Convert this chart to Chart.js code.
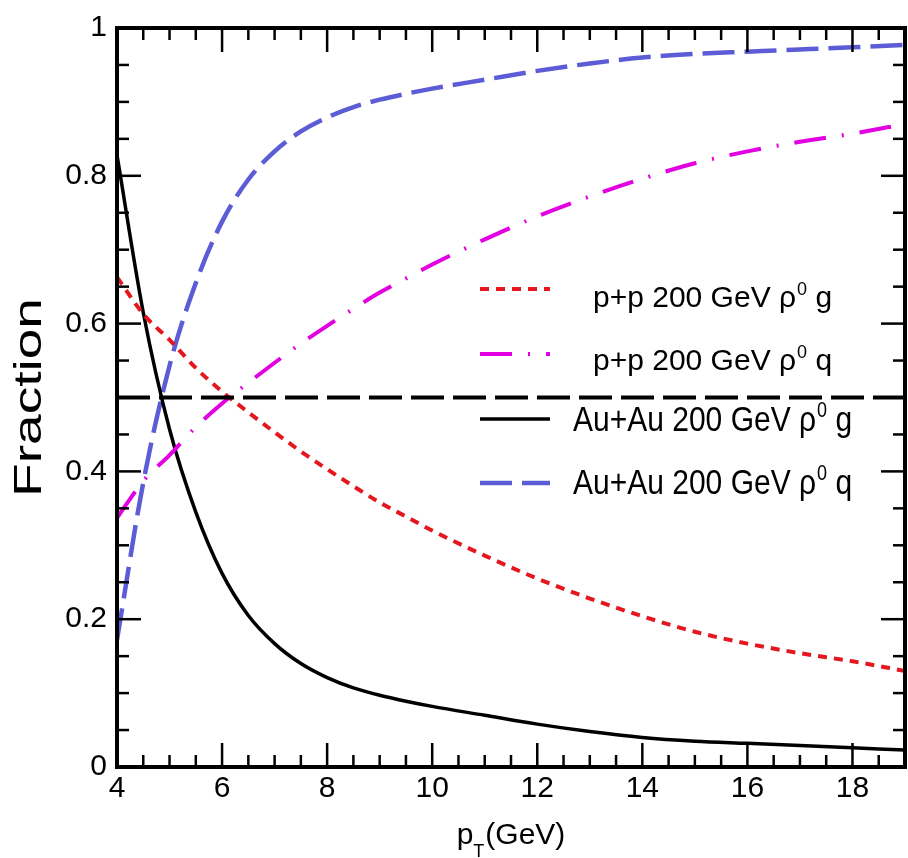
<!DOCTYPE html>
<html>
<head>
<meta charset="utf-8">
<title>Fraction vs pT</title>
<script src="https://cdn.jsdelivr.net/npm/chart.js@4.4.1/dist/chart.umd.min.js"></script>
<style>
  html, body { margin: 0; padding: 0; background: #fff; }
  canvas { display: block; }
</style>
</head>
<body>
<canvas id="chart" width="908" height="858"></canvas>
<script>
// pT grid (GeV)
const pT = [4, 4.5, 5, 5.5, 6, 6.5, 7, 7.5, 8, 8.5, 9, 9.5, 10, 11, 12, 13, 14, 15, 16, 17, 18, 19];

// fractions for each channel
const ppGluon = [0.663, 0.613, 0.578, 0.540, 0.508, 0.480, 0.453, 0.427, 0.403, 0.380, 0.358, 0.339, 0.320, 0.286, 0.255, 0.228, 0.204, 0.183, 0.167, 0.154, 0.143, 0.130];
const ppQuark = [0.337, 0.387, 0.422, 0.460, 0.492, 0.520, 0.547, 0.573, 0.597, 0.620, 0.642, 0.661, 0.680, 0.714, 0.745, 0.772, 0.796, 0.817, 0.833, 0.846, 0.857, 0.870];
const auGluon = [0.828, 0.615, 0.457, 0.345, 0.262, 0.205, 0.167, 0.140, 0.121, 0.107, 0.097, 0.089, 0.082, 0.070, 0.058, 0.048, 0.040, 0.035, 0.032, 0.029, 0.026, 0.023];
const auQuark = [0.172, 0.385, 0.543, 0.655, 0.738, 0.795, 0.833, 0.860, 0.879, 0.893, 0.903, 0.911, 0.918, 0.930, 0.942, 0.952, 0.960, 0.965, 0.968, 0.971, 0.974, 0.977];

// reference level
const halfX = [4, 19];
const halfY = [0.5, 0.5];

// axis ticks
const xTicks = [4, 6, 8, 10, 12, 14, 16, 18];
const xTickLabels = ['4', '6', '8', '10', '12', '14', '16', '18'];
const yTicks = [0, 0.2, 0.4, 0.6, 0.8, 1];
const yTickLabels = ['0', '0.2', '0.4', '0.6', '0.8', '1'];

// legend entries
const legendMain = ['p+p 200 GeV \u03C1', 'p+p 200 GeV \u03C1', 'Au+Au 200 GeV \u03C1', 'Au+Au 200 GeV \u03C1'];
const legendSup = ['0', '0', '0', '0'];
const legendTail = [' g', ' q', ' g', ' q'];

const FONT = '"Liberation Sans", Arial, Helvetica, sans-serif';
const RED = 'rgb(228,22,30)';
const MAGENTA = 'rgb(226,0,226)';
const BLACK = '#000000';
const BLUE = 'rgb(92,92,214)';

const styles = [
  { color: RED,     width: 4,   dash: [9, 7] },
  { color: MAGENTA, width: 4,   dash: [32, 16, 2, 16] },
  { color: BLACK,   width: 3.5, dash: [] },
  { color: BLUE,    width: 4.5, dash: [32, 10] }
];

const toPts = (ys) => ys.map((v, i) => ({ x: pT[i], y: v }));

function curve(label, ys, s) {
  return {
    label,
    data: toPts(ys),
    borderColor: s.color,
    borderWidth: s.width,
    borderDash: s.dash,
    pointRadius: 0,
    fill: false,
    cubicInterpolationMode: 'monotone'
  };
}

const datasets = [
  {
    label: 'half',
    data: halfX.map((x, i) => ({ x, y: halfY[i] })),
    borderColor: BLACK,
    borderWidth: 4,
    borderDash: [33, 9],
    pointRadius: 0,
    fill: false
  },
  curve('p+p g', ppGluon, styles[0]),
  curve('p+p q', ppQuark, styles[1]),
  curve('Au+Au g', auGluon, styles[2]),
  curve('Au+Au q', auQuark, styles[3])
];

// frame with inward major/minor ticks on all four sides
const framePlugin = {
  id: 'frame',
  afterDatasetsDraw(chart) {
    const { ctx, chartArea: a, scales: { x, y } } = chart;
    ctx.save();
    ctx.strokeStyle = '#000';
    ctx.lineWidth = 2.5;
    const seg = (x1, y1, x2, y2) => { ctx.beginPath(); ctx.moveTo(x1, y1); ctx.lineTo(x2, y2); ctx.stroke(); };
    const xMinor = 0.5, xMajor = 2, yMinor = 0.05, yMajor = 0.2;
    const nx = Math.round((x.max - x.min) / xMinor);
    for (let i = 0; i <= nx; i++) {
      const v = x.min + i * xMinor;
      const px = x.getPixelForValue(v);
      const major = Math.abs((v - x.min) / xMajor - Math.round((v - x.min) / xMajor)) < 1e-6;
      const len = major ? 24 : 12;
      seg(px, a.bottom, px, a.bottom - len);
      seg(px, a.top, px, a.top + len);
    }
    const ny = Math.round((y.max - y.min) / yMinor);
    for (let i = 0; i <= ny; i++) {
      const v = y.min + i * yMinor;
      const py = y.getPixelForValue(v);
      const major = Math.abs(v / yMajor - Math.round(v / yMajor)) < 1e-6;
      const len = major ? 24 : 12;
      seg(a.left, py, a.left + len, py);
      seg(a.right, py, a.right - len, py);
    }
    ctx.lineWidth = 4;
    ctx.strokeRect(a.left, a.top, a.right - a.left, a.bottom - a.top);
    ctx.restore();
  }
};

// axis titles and legend
const textPlugin = {
  id: 'texts',
  afterDraw(chart) {
    const { ctx, chartArea: a } = chart;
    ctx.save();
    ctx.fillStyle = '#000';

    // y title
    ctx.save();
    ctx.translate(41, (a.top + a.bottom) / 2);
    ctx.rotate(-Math.PI / 2);
    ctx.scale(1.45, 1);
    ctx.font = '38px ' + FONT;
    ctx.textAlign = 'center';
    ctx.textBaseline = 'alphabetic';
    ctx.fillText('Fraction', 0, 0);
    ctx.restore();

    // x title: p_T(GeV)
    ctx.textAlign = 'left';
    ctx.textBaseline = 'alphabetic';
    ctx.font = '30px ' + FONT;
    const pW = ctx.measureText('p').width;
    ctx.font = '18px ' + FONT;
    const tW = ctx.measureText('T').width;
    ctx.font = '30px ' + FONT;
    const gW = ctx.measureText('(GeV)').width;
    const total = pW + tW + 1 + gW;
    let tx = (a.left + a.right) / 2 - total / 2;
    ctx.fillText('p', tx, 844);
    tx += pW;
    ctx.font = '18px ' + FONT;
    ctx.fillText('T', tx, 857);
    tx += tW + 1;
    ctx.font = '30px ' + FONT;
    ctx.fillText('(GeV)', tx, 844);

    // legend
    const rowsY = [289, 354, 419, 483];
    const textY = [307, 370, 431, 494];
    const textX = [593, 593, 573, 573];
    const vScale = [1, 1, 1.18, 1.18];
    for (let i = 0; i < 4; i++) {
      const s = styles[i];
      ctx.save();
      ctx.strokeStyle = s.color;
      ctx.lineWidth = s.width;
      ctx.setLineDash(s.dash);
      ctx.beginPath();
      ctx.moveTo(480, rowsY[i]);
      ctx.lineTo(550, rowsY[i]);
      ctx.stroke();
      ctx.restore();

      ctx.save();
      ctx.translate(textX[i], textY[i]);
      ctx.scale(1, vScale[i]);
      ctx.font = '30px ' + FONT;
      ctx.fillText(legendMain[i], 0, 0);
      let w = ctx.measureText(legendMain[i]).width + 1;
      ctx.font = '18px ' + FONT;
      ctx.fillText(legendSup[i], w, -12);
      w += ctx.measureText(legendSup[i]).width;
      ctx.font = '30px ' + FONT;
      ctx.fillText(legendTail[i], w, 0);
      ctx.restore();
    }
    ctx.restore();
  }
};

new Chart(document.getElementById('chart'), {
  type: 'line',
  data: { datasets },
  plugins: [framePlugin, textPlugin],
  options: {
    responsive: false,
    animation: false,
    devicePixelRatio: 1,
    layout: { padding: { left: 0, top: 22, right: 3, bottom: 0 } },
    plugins: { legend: { display: false }, tooltip: { enabled: false } },
    scales: {
      x: {
        type: 'linear',
        min: 4,
        max: 19,
        grid: { display: false, drawTicks: false },
        border: { display: false },
        afterBuildTicks: (s) => { s.ticks = xTicks.map(v => ({ value: v })); },
        afterFit: (s) => { s.height = 91; },
        ticks: {
          color: '#000',
          font: { family: FONT, size: 30 },
          padding: 4,
          maxRotation: 0,
          autoSkip: false,
          callback: (v) => xTickLabels[xTicks.indexOf(v)]
        }
      },
      y: {
        type: 'linear',
        min: 0,
        max: 1,
        grid: { display: false, drawTicks: false },
        border: { display: false },
        afterBuildTicks: (s) => { s.ticks = yTicks.map(v => ({ value: v })); },
        afterFit: (s) => { s.width = 117; },
        ticks: {
          color: '#000',
          font: { family: FONT, size: 30 },
          padding: 10,
          autoSkip: false,
          callback: (v) => yTickLabels[yTicks.indexOf(v)]
        }
      }
    }
  }
});
</script>
</body>
</html>
